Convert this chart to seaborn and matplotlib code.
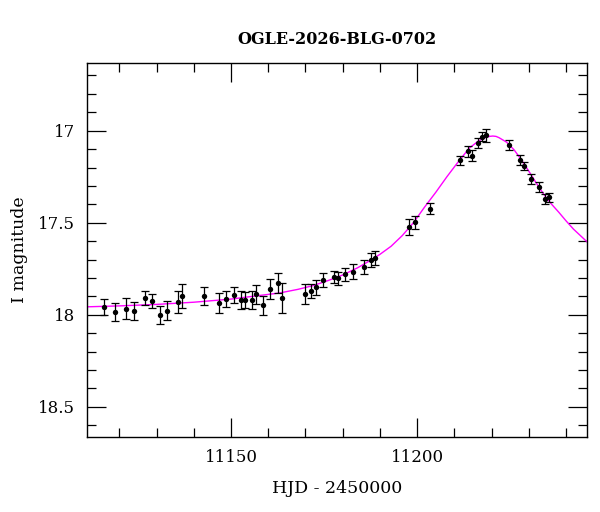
import matplotlib
matplotlib.use("Agg")
import matplotlib.pyplot as plt
from matplotlib.ticker import MultipleLocator
import seaborn as sns
import pandas as pd

# Observed photometry (HJD - 2450000, I magnitude, error)
hjd = [11115.8, 11118.8, 11121.8, 11123.9, 11126.8, 11128.8, 11130.9, 11132.8, 11135.8, 11136.8,
       11142.7, 11146.7, 11148.7, 11150.7, 11152.7, 11153.7, 11155.6, 11156.8, 11158.7, 11160.6,
       11162.6, 11163.7, 11169.8, 11171.6, 11172.8, 11174.8, 11177.7, 11178.7, 11180.7, 11182.7,
       11185.6, 11187.7, 11188.7, 11197.7, 11199.5, 11203.5, 11211.5, 11213.6, 11214.8, 11216.4,
       11217.5, 11218.4, 11224.6, 11227.5, 11228.6, 11230.7, 11232.6, 11234.4, 11235.4]
mag = [17.958, 17.985, 17.967, 17.980, 17.909, 17.926, 18.002, 17.978, 17.931, 17.897,
       17.898, 17.935, 17.915, 17.893, 17.920, 17.920, 17.920, 17.888, 17.949, 17.860,
       17.826, 17.908, 17.889, 17.871, 17.850, 17.810, 17.793, 17.802, 17.780, 17.766,
       17.739, 17.701, 17.692, 17.525, 17.498, 17.424, 17.161, 17.112, 17.137, 17.065,
       17.033, 17.025, 17.078, 17.159, 17.192, 17.261, 17.308, 17.371, 17.362]
err = [0.046, 0.050, 0.058, 0.049, 0.038, 0.040, 0.049, 0.053, 0.060, 0.065,
       0.047, 0.053, 0.042, 0.042, 0.049, 0.044, 0.047, 0.052, 0.050, 0.052,
       0.054, 0.080, 0.054, 0.038, 0.041, 0.037, 0.033, 0.034, 0.035, 0.039,
       0.038, 0.038, 0.040, 0.044, 0.037, 0.030, 0.024, 0.030, 0.030, 0.027,
       0.024, 0.034, 0.029, 0.029, 0.024, 0.027, 0.027, 0.029, 0.025]

# Model curve
model_hjd = [11111.4, 11120, 11130, 11140, 11150, 11157, 11163, 11168, 11172, 11176,
             11180, 11184, 11187, 11190, 11193, 11196, 11199, 11202, 11205, 11208,
             11211, 11214, 11216.5, 11218.5, 11219.4, 11220.3, 11221.2, 11222, 11224, 11226,
             11228, 11230, 11232, 11234, 11236, 11238, 11240, 11242, 11245.7]
model_mag = [17.957, 17.952, 17.944, 17.932, 17.915, 17.897, 17.882, 17.862, 17.842, 17.815,
             17.784, 17.745, 17.710, 17.672, 17.628, 17.570, 17.500, 17.415, 17.335, 17.250,
             17.170, 17.095, 17.055, 17.036, 17.031, 17.029, 17.031, 17.038, 17.062, 17.103,
             17.158, 17.220, 17.285, 17.345, 17.397, 17.442, 17.490, 17.535, 17.605]

title = "OGLE-2026-BLG-0702"
xlabel = "HJD - 2450000"
ylabel = "I magnitude"

sns.set_theme(style="white")
plt.rcParams["font.family"] = ["DejaVu Serif"]
plt.rcParams["mathtext.fontset"] = "dejavuserif"

df = pd.DataFrame({"hjd": hjd, "mag": mag, "err": err})
dm = pd.DataFrame({"hjd": model_hjd, "mag": model_mag})

fig = plt.figure(figsize=(6.0, 5.12), dpi=100)
ax = fig.add_axes([0.1455, 0.147, 0.8333, 0.730])

sns.lineplot(data=dm, x="hjd", y="mag", ax=ax, color="#ff00ff", linewidth=1.0,
             sort=False, estimator=None, zorder=1)
ax.errorbar(df["hjd"], df["mag"], yerr=df["err"], fmt="none", ecolor="black",
            elinewidth=0.9, capsize=2.6, capthick=0.9, zorder=2)
sns.scatterplot(data=df, x="hjd", y="mag", ax=ax, color="black", s=15,
                edgecolor="black", linewidth=0, zorder=3)

ax.set_xlim(11111.4, 11245.7)
ax.set_ylim(18.663, 16.632)

ax.xaxis.set_major_locator(MultipleLocator(50))
ax.xaxis.set_minor_locator(MultipleLocator(10))
ax.yaxis.set_major_locator(MultipleLocator(0.5))
ax.yaxis.set_minor_locator(MultipleLocator(0.1))
ax.set_yticks([17, 17.5, 18, 18.5])
ax.set_yticklabels(["17", "17.5", "18", "18.5"])

ax.tick_params(which="both", direction="in", top=True, right=True, bottom=True, left=True,
               color="black", width=0.9)
ax.tick_params(which="major", length=13.5, labelsize=12, pad=9, labelcolor="black")
ax.tick_params(which="minor", length=6.7)

for s in ax.spines.values():
    s.set_color("black")
    s.set_linewidth(1.0)

ax.set_xlabel(xlabel, fontsize=12.5, color="black", labelpad=10)
ax.set_ylabel(ylabel, fontsize=12.5, color="black", labelpad=7)
ax.set_title(title, fontsize=11.5, fontweight="bold", color="black", pad=14)

fig.savefig("out.png", dpi=100, facecolor="white")
